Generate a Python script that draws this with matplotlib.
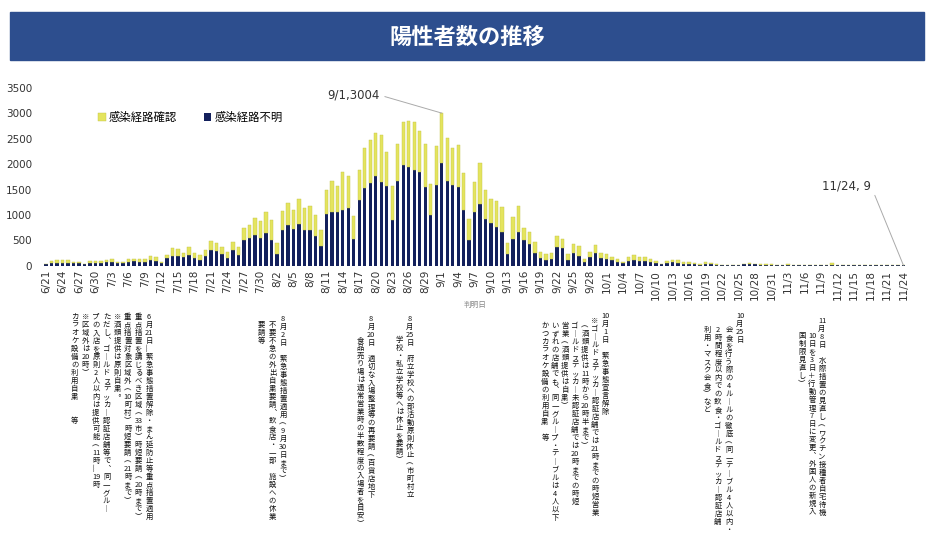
import matplotlib
matplotlib.use("Agg")
import matplotlib.pyplot as plt
from matplotlib.patches import Patch, Rectangle
import numpy as np
import pandas as pd

plt.rcParams['font.family'] = ['DejaVu Sans', 'Noto Sans CJK JP']

# daily positives 6/21 - 11/24
dates = pd.date_range('2021-06-21', '2021-11-24')
day_labels = [f"{d.month}/{d.day}" for d in dates]

unknown = [25, 53, 60, 60, 60, 46, 46, 26, 53, 60,
           60, 66, 80, 46, 46, 80, 86, 73, 80, 105,
           92, 46, 145, 190, 198, 165, 211, 145, 112, 198,
           304, 290, 224, 158, 310, 211, 508, 548, 614, 554,
           634, 508, 238, 700, 799, 713, 818, 700, 700, 587,
           383, 1023, 1056, 1063, 1100, 1127, 527, 1285, 1535, 1621,
           1773, 1654, 1568, 890, 1661, 1990, 1937, 1891, 1839, 1549,
           989, 1588, 2023, 1667, 1595, 1549, 1094, 514, 1054, 1213,
           916, 837, 771, 666, 224, 534, 672, 507, 422, 244,
           145, 112, 125, 362, 356, 112, 244, 191, 79, 165,
           244, 145, 138, 105, 66, 46, 92, 119, 99, 92,
           72, 53, 26, 53, 66, 60, 40, 40, 33, 16,
           40, 33, 18, 12, 12, 13, 12, 25, 28, 25,
           20, 18, 15, 8, 10, 20, 10, 12, 9, 10,
           9, 8, 10, 20, 9, 8, 9, 7, 8, 9,
           7, 8, 6, 7, 7, 6, 5]
known = [15, 39, 52, 52, 52, 34, 34, 14, 33, 40,
         40, 46, 58, 34, 26, 45, 52, 52, 58, 85,
         73, 34, 73, 153, 125, 85, 165, 112, 106, 112,
         191, 165, 152, 119, 152, 152, 238, 251, 323, 330,
         416, 383, 204, 382, 435, 383, 502, 435, 468, 410,
         310, 475, 607, 508, 745, 646, 442, 593, 785, 844,
         843, 923, 679, 672, 725, 837, 916, 943, 817, 856,
         626, 778, 981, 850, 725, 823, 738, 409, 600, 817,
         580, 481, 494, 487, 231, 415, 494, 231, 250, 217,
         119, 125, 125, 231, 178, 125, 178, 191, 59, 112,
         158, 112, 99, 66, 66, 33, 73, 85, 66, 73,
         53, 33, 14, 39, 53, 45, 26, 26, 20, 10,
         32, 27, 12, 8, 8, 9, 8, 15, 18, 15,
         15, 12, 10, 6, 8, 13, 8, 8, 7, 7,
         6, 6, 8, 40, 6, 5, 7, 5, 6, 6,
         5, 6, 5, 5, 6, 4, 4]

series_names = ['感染経路確認', '感染経路不明']
title = '陽性者数の推移'

notes_0621 = ['6月21日～緊急事態措置解除・まん延防止等重点措置適用',
              '重点措置を講じるべき区域（33市）時短要請（20時まで）',
              '重点措置対象区域外（10町村）時短要請（21時まで）',
              '※酒類提供は原則自粛。',
              'ただし、ゴールドステッカー認証店舗等で、同一グルー',
              'プの入店を原則2人以内は提供可能(11時～19時',
              '※区域外は20時）',
              'カラオケ設備の利用自粛　　等']
notes_0802 = ['8月2日　緊急事態措置適用（9月30日まで）',
              '不要不急の外出自粛要請、飲食店・一部 施設への休業',
              '要請等']
notes_0820 = ['8月20日　適切な入場整理等の再要請（百貨店地下',
              '食品売り場は通常営業時の半数程度の入場者を目安）']
notes_0825 = ['8月25日　府立学校への部活動原則休止（市町村立',
              '学校・私立学校等へは休止を要請）']
notes_1001 = ['10月1日　緊急事態宣言解除',
              '※ゴールドステッカー認証店舗では21時までの時短営業',
              '（酒類提供は11時から20時半まで）',
              'ゴールドステッカー未認証店舗では20時までの時短',
              '営業（酒類提供は自粛）',
              'いずれの店舗でも、同一グループ・テーブルは4人以下',
              'かつカラオケ設備の利用自粛　等']
notes_1025 = ['10月25日',
              '会食を行う際の4ルールの徹底（同一テーブル4人以内・',
              '2時間程度以内での飲食・ゴールドステッカー認証店舗',
              '利用・マスク会食）など']
notes_1108 = ['11月8日　水際措置の見直し（ワクチン接種者自宅待機',
              '10日を3日＋行動管理7日に変更、外国人の新規入',
              '国制限見直し）']

YELLOW = '#E4E45E'
NAVY = '#13205C'
W, H = 934, 542

VERT = {'（': '︵', '）': '︶', '(': '︵', ')': '︶', 'ー': '︱',
        '～': '︴', '、': '︑', '。': '︒'}


def tokens(s):
    out = []
    i = 0
    while i < len(s):
        c = s[i]
        if c.isascii() and c.isdigit():
            j = i
            while j < len(s) and s[j].isascii() and s[j].isdigit():
                j += 1
            out.append(s[i:j])
            i = j
        else:
            out.append(VERT.get(c, c))
            i += 1
    return out


def tate(fig, x, tops, lines, gap=10.6, step=8.0, size=5.3):
    # vertical writing, columns right to left
    for j, line in enumerate(lines):
        y = tops[j] if isinstance(tops, list) else tops
        for t in tokens(line):
            if t not in (' ', '　'):
                fig.text((x - j * gap) / W, 1 - y / H, t,
                         ha='center', va='top', fontsize=size, color='#111111',
                         family=['Noto Sans CJK JP', 'DejaVu Sans'])
            y += step


fig = plt.figure(figsize=(W / 100, H / 100), dpi=100)

# title banner
fig.patches.append(Rectangle((10 / W, 1 - 60 / H), 914 / W, 48 / H,
                             transform=fig.transFigure, color='#2D4E8E'))
fig.text(0.5, 1 - 37 / H, title, ha='center', va='center', color='white',
         fontsize=16, fontweight='bold', family=['Noto Sans CJK JP'])

ax = fig.add_axes([40.5 / W, 1 - 265.7 / H, 868.4 / W, 177.8 / H])
x = np.arange(len(day_labels))
ax.bar(x, unknown, width=0.62, color=NAVY, linewidth=0)
ax.bar(x, known, width=0.62, bottom=unknown, color=YELLOW,
       edgecolor='#C4C448', linewidth=0.3)
ax.set_xlim(-1, len(x))
ax.set_ylim(0, 3500)
ax.set_yticks(range(0, 3501, 500))
ax.set_xticks(x[::3])
ax.set_xticklabels(day_labels[::3], rotation=90)
ax.tick_params(axis='both', length=0, labelsize=7.5, colors='#333333')
ax.tick_params(axis='y', pad=6)
ax.tick_params(axis='x', pad=3)
for s in ax.spines.values():
    s.set_visible(False)
ax.set_xlabel('判明日', fontsize=5.5, color='#888888', labelpad=1,
              family=['Noto Sans CJK JP'])

handles = [Patch(facecolor=YELLOW, edgecolor='#C4C448', linewidth=0.3),
           Patch(facecolor=NAVY)]
fig.legend(handles, series_names, loc='center left',
           bbox_to_anchor=(88 / W, 1 - 117 / H), ncol=2, frameon=False,
           handlelength=0.7, handleheight=0.7,
           handletextpad=0.25, columnspacing=2.3,
           prop={'family': ['Noto Sans CJK JP'], 'size': 8.2})

peak = int(np.argmax(np.add(unknown, known)))
ax.annotate(f"{day_labels[peak]},{unknown[peak] + known[peak]}",
            xy=(peak, unknown[peak] + known[peak]),
            xytext=(327, H - 95), textcoords='figure pixels',
            ha='left', va='center', fontsize=8.5, color='#333333',
            arrowprops=dict(arrowstyle='-', color='#AAAAAA', lw=0.7,
                            relpos=(1, 0.5), shrinkA=2, shrinkB=0))
last = len(x) - 1
ax.annotate(f"{day_labels[last]}, {unknown[last] + known[last]}",
            xy=(last, unknown[last] + known[last]),
            xytext=(822, H - 186), textcoords='figure pixels',
            ha='left', va='center', fontsize=8.5, color='#333333',
            arrowprops=dict(arrowstyle='-', color='#AAAAAA', lw=0.7,
                            relpos=(1, 0.5), shrinkA=2, shrinkB=0))

tate(fig, 149, 313, notes_0621)
tate(fig, 283, [315, 321, 321], notes_0802)
tate(fig, 371, [315, 336], notes_0820)
tate(fig, 410, [315, 336], notes_0825)
tate(fig, 605, [312, 317, 322, 322, 322, 322, 322], notes_1001, gap=10.0)
tate(fig, 740, [312, 326, 326, 326], notes_1025, gap=11.0)
tate(fig, 822, [317, 332, 332], notes_1108, gap=10.0)

fig.savefig('out.png', dpi=100)
